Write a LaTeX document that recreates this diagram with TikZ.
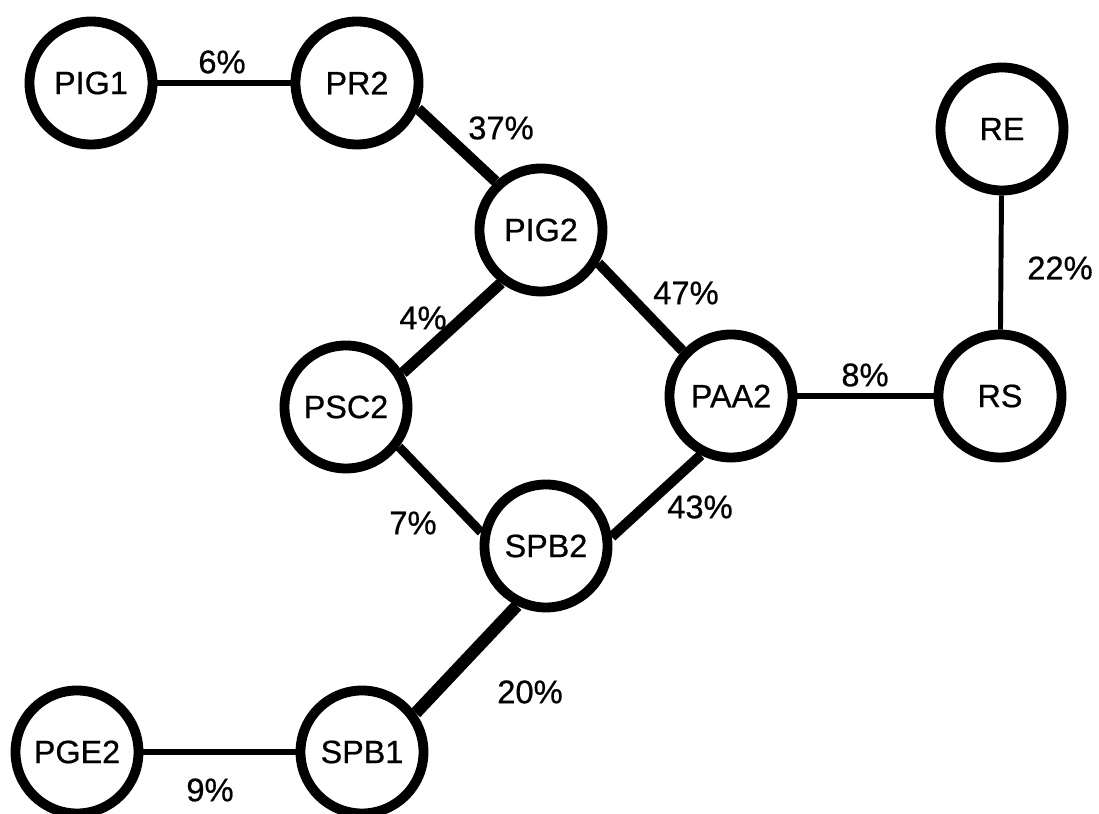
\documentclass[tikz,border=0pt]{standalone}
\usepackage{fontspec}
\setmainfont{Liberation Sans}[FakeBold=0.6]

\tikzset{
  comp/.style={circle,draw,line width=2.8pt,minimum size=1.23cm,inner sep=0pt,
    font=\fontsize{9.2}{11}\selectfont},
  pct/.style={inner sep=0pt,font=\fontsize{9.3}{11}\selectfont}
}

\begin{document}
\begin{tikzpicture}
   \useasboundingbox (0,0) rectangle (10.99,8.14);
   % compartments
   \node[comp] (PIG1) at (0.91,7.31) {PIG1};
   \node[comp] (PR2)  at (3.57,7.31) {PR2};
   \node[comp] (PIG2) at (5.41,5.84) {PIG2};
   \node[comp] (RE)   at (10.02,6.85) {RE};
   \node[comp] (PSC2) at (3.46,4.07) {PSC2};
   \node[comp] (PAA2) at (7.31,4.18) {PAA2};
   \node[comp] (RS)   at (10.00,4.18) {RS};
   \node[comp] (SPB2) at (5.46,2.68) {SPB2};
   \node[comp] (SPB1) at (3.62,0.62) {SPB1};
   \node[comp] (PGE2) at (0.77,0.62) {PGE2};
   % links
   \draw[line width=1.7pt] (PIG1) -- (PR2);
   \draw[line width=3.1pt] (PR2.337) -- (PIG2.133);
   \draw[line width=3.2pt] (PIG2.233) -- (PSC2.31);
   \draw[line width=2.9pt] (PIG2.330) -- (PAA2.137);
   \draw[line width=2.6pt] (PSC2.323) -- (SPB2.168);
   \draw[line width=2.9pt] (PAA2.243) -- (SPB2.8);
   \draw[line width=1.7pt] (PAA2) -- (RS);
   \draw[line width=1.4pt] (RE) -- (RS);
   \draw[line width=3.5pt] (SPB2.244) -- (SPB1.36);
   \draw[line width=1.7pt] (PGE2) -- (SPB1);
   % percentages
   \node[pct] (p6)  at (2.22,7.52) {6\%};
   \node[pct] (p37) at (5.01,6.86) {37\%};
   \node[pct] (p47) at (6.86,5.21) {47\%};
   \node[pct] (p4)  at (4.23,4.96) {4\%};
   \node[pct] (p7)  at (4.13,2.91) {7\%};
   \node[pct] (p43) at (7.00,3.07) {43\%};
   \node[pct] (p8)  at (8.65,4.39) {8\%};
   \node[pct] (p22) at (10.60,5.46) {22\%};
   \node[pct] (p20) at (5.30,1.22) {20\%};
   \node[pct] (p9)  at (2.10,0.24) {9\%};
\end{tikzpicture}
\end{document}
